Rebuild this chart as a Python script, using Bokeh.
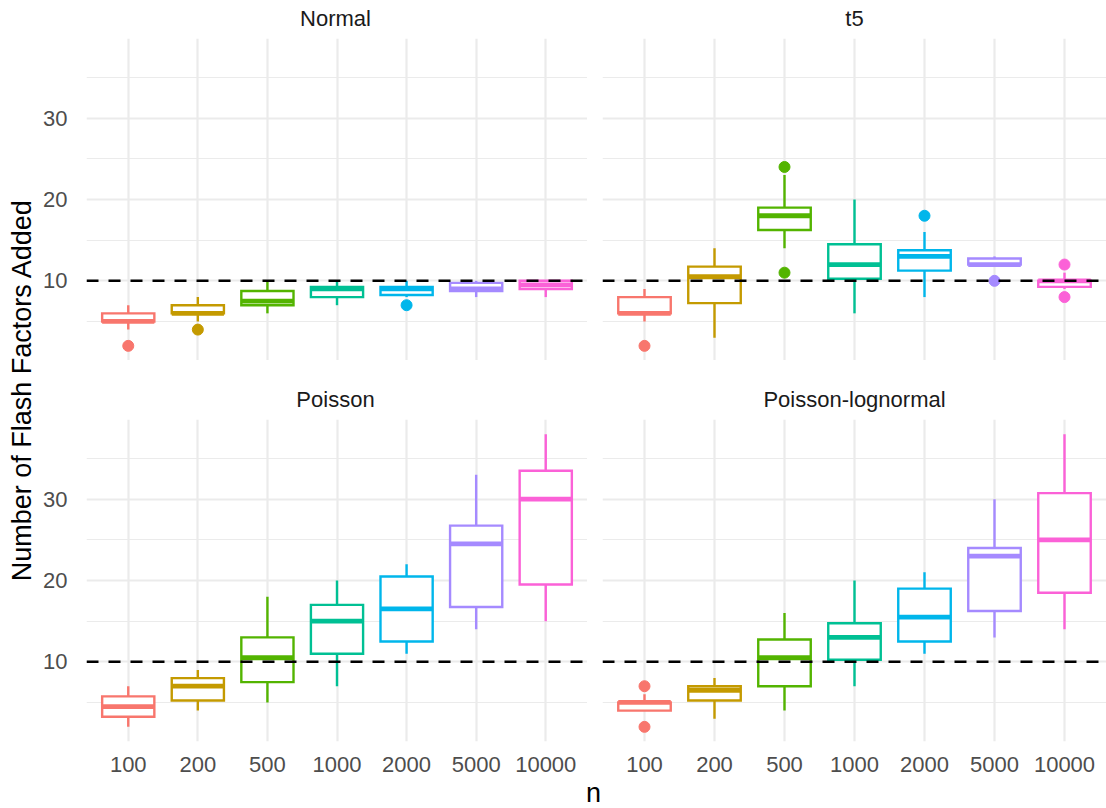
import numpy as np
from bokeh.plotting import figure
from bokeh.layouts import row, column
from bokeh.models import (Span, FixedTicker, Range1d, FactorRange, Label,
                          ColumnDataSource, LinearAxis, CategoricalAxis, Grid,
                          CategoricalTicker)
from bokeh.transform import dodge
from bokeh.embed import file_html
from bokeh.resources import INLINE

FONT = "Liberation Sans"

n_labels = ["100", "200", "500", "1000", "2000", "5000", "10000"]
colors = ["#F8766D", "#C49A00", "#53B400", "#00C094", "#00B6EB", "#A58AFF", "#FB61D7"]
y_ticks = [10, 20, 30]
y_minor = [5, 15, 25, 35]
reference_k = 10

# Normal
normal_lo = [4, 5, 6, 7, 8, 8, 8]
normal_q1 = [5, 6, 7, 8, 8.25, 8.75, 9]
normal_med = [5, 6, 7.5, 9, 9, 9, 9.5]
normal_q3 = [6, 7, 8.75, 9.25, 9.25, 9.75, 10]
normal_hi = [7, 8, 10, 10, 10, 10, 10]
normal_out_n = ["100", "200", "2000"]
normal_out_y = [2, 4, 7]

# t5
t5_lo = [5, 3, 14, 6, 8, 12, 9]
t5_q1 = [6, 7.25, 16.25, 10.25, 11.25, 12, 9.25]
t5_med = [6, 10.5, 18, 12, 13, 12, 10]
t5_q3 = [8, 11.75, 19, 14.5, 13.75, 12.75, 10]
t5_hi = [9, 14, 23, 20, 16, 13, 11]
t5_out_n = ["100", "500", "500", "2000", "5000", "10000", "10000"]
t5_out_y = [2, 11, 24, 18, 10, 8, 12]

# Poisson
pois_lo = [2, 4, 5, 7, 11, 14, 15]
pois_q1 = [3.25, 5.25, 7.5, 11, 12.5, 16.75, 19.5]
pois_med = [4.5, 7, 10.5, 15, 16.5, 24.5, 30]
pois_q3 = [5.75, 8, 13, 17, 20.5, 26.75, 33.5]
pois_hi = [7, 9, 18, 20, 22, 33, 38]
pois_out_n = []
pois_out_y = []

# Poisson-lognormal
pln_lo = [4, 3, 4, 7, 11, 13, 14]
pln_q1 = [4, 5.25, 7, 10.25, 12.5, 16.25, 18.5]
pln_med = [5, 6.5, 10.5, 13, 15.5, 23, 25]
pln_q3 = [5, 7, 12.75, 14.75, 19, 24, 30.75]
pln_hi = [6, 8, 16, 20, 21, 30, 38]
pln_out_n = ["100", "100"]
pln_out_y = [2, 7]

BOX_W = 0.75
LW = 2.4
MED_LW = 4.8
FRAME_H = 322
X_AXIS_H = 35


def blank(width, height, left=0):
    f = figure(width=width, height=height, x_range=Range1d(0, 1),
               y_range=Range1d(0, height), x_axis_type=None, y_axis_type=None,
               output_backend="svg", toolbar_location=None, min_border=0,
               min_border_left=left)
    f.outline_line_color = None
    return f


def strip(title, width, height, left):
    f = blank(width, height, left)
    f.add_layout(Label(x=0.5, y=20.3, text=title, text_align="center",
                       text_baseline="middle", text_font=FONT,
                       text_font_size="22px", text_color="#1A1A1A"))
    return f


def make_panel(lo, q1, med, q3, hi, out_n, out_y, width, height,
               left, bottom, show_x, show_y):
    p = figure(x_range=FactorRange(factors=n_labels, range_padding=0.1,
                                   range_padding_units="absolute"),
               y_range=Range1d(0.2, 39.8),
               x_axis_type=None, y_axis_type=None,
               width=width, height=height, output_backend="svg",
               toolbar_location=None,
               min_border_left=left, min_border_right=0,
               min_border_top=0, min_border_bottom=bottom)
    p.outline_line_color = None
    p.background_fill_color = "white"
    p.border_fill_color = "white"

    p.add_layout(Grid(dimension=0, ticker=CategoricalTicker(),
                      grid_line_color="#EBEBEB", grid_line_width=2.2))
    p.add_layout(Grid(dimension=1,
                      ticker=FixedTicker(ticks=y_ticks, minor_ticks=y_minor),
                      grid_line_color="#EBEBEB", grid_line_width=2.2,
                      minor_grid_line_color="#EBEBEB", minor_grid_line_width=1.1))

    if show_y:
        ya = LinearAxis(ticker=FixedTicker(ticks=y_ticks),
                        axis_line_color=None, major_tick_line_color=None,
                        minor_tick_line_color=None,
                        major_label_text_font=FONT,
                        major_label_text_font_size="22px",
                        major_label_text_color="#4D4D4D",
                        major_label_standoff=13)
        p.add_layout(ya, "left")
    if show_x:
        xa = CategoricalAxis(axis_line_color=None, major_tick_line_color=None,
                             minor_tick_line_color=None,
                             major_label_text_font=FONT,
                             major_label_text_font_size="22px",
                             major_label_text_color="#4D4D4D",
                             major_label_standoff=9)
        p.add_layout(xa, "below")

    src = ColumnDataSource(dict(x=n_labels, lo=lo, q1=q1, med=med, q3=q3,
                                hi=hi, color=colors))
    p.segment(x0="x", y0="q3", x1="x", y1="hi", line_color="color",
              line_width=LW, source=src)
    p.segment(x0="x", y0="q1", x1="x", y1="lo", line_color="color",
              line_width=LW, source=src)
    p.vbar(x="x", bottom="q1", top="q3", width=BOX_W, fill_color="white",
           line_color="color", line_width=LW, line_join="miter", source=src)
    p.segment(x0=dodge("x", -BOX_W / 2, range=p.x_range), y0="med",
              x1=dodge("x", BOX_W / 2, range=p.x_range), y1="med",
              line_color="color", line_width=MED_LW, source=src)
    if out_n:
        oc = [colors[n_labels.index(n)] for n in out_n]
        osrc = ColumnDataSource(dict(x=out_n, y=out_y, color=oc))
        p.scatter(x="x", y="y", size=11, fill_color="color",
                  line_color="color", source=osrc)
    p.add_layout(Span(location=reference_k, dimension="width",
                      line_color="black", line_width=2.5, line_dash="12 10"))
    return p


s_tl = strip("Normal", 547, 38, 43)
s_tr = strip("t5", 519, 38, 15)
tl = make_panel(normal_lo, normal_q1, normal_med, normal_q3, normal_hi,
                normal_out_n, normal_out_y, 547, FRAME_H, 43, 0, False, True)
tr = make_panel(t5_lo, t5_q1, t5_med, t5_q3, t5_hi,
                t5_out_n, t5_out_y, 519, FRAME_H, 15, 0, False, False)
s_bl = strip("Poisson", 547, 59, 43)
s_br = strip("Poisson-lognormal", 519, 59, 15)
bl = make_panel(pois_lo, pois_q1, pois_med, pois_q3, pois_hi,
                pois_out_n, pois_out_y, 547, FRAME_H + X_AXIS_H, 43, X_AXIS_H, True, True)
br = make_panel(pln_lo, pln_q1, pln_med, pln_q3, pln_hi,
                pln_out_n, pln_out_y, 519, FRAME_H + X_AXIS_H, 15, X_AXIS_H, True, False)

ylab = figure(width=40, height=808, x_range=Range1d(0, 40), y_range=Range1d(0, 808),
              x_axis_type=None, y_axis_type=None, output_backend="svg",
              toolbar_location=None, min_border=0)
ylab.outline_line_color = None
ylab.add_layout(Label(x=21, y=418.5, text="Number of Flash Factors Added",
                      angle=np.pi / 2, text_align="center", text_baseline="middle",
                      text_font=FONT, text_font_size="27px", text_color="black"))

XLAB_H = 808 - 38 - FRAME_H - 59 - FRAME_H - X_AXIS_H
xlab = figure(width=1066, height=XLAB_H, x_range=Range1d(0, 1066),
              y_range=Range1d(0, XLAB_H),
              x_axis_type=None, y_axis_type=None, output_backend="svg",
              toolbar_location=None, min_border=0)
xlab.outline_line_color = None
xlab.add_layout(Label(x=553, y=16, text="n", text_align="center",
                      text_baseline="middle", text_font=FONT,
                      text_font_size="27px", text_color="black"))

layout = row(ylab, column(row(s_tl, s_tr), row(tl, tr), row(s_bl, s_br),
                          row(bl, br), xlab))

open("out.html", "w").write(file_html(layout, INLINE))
